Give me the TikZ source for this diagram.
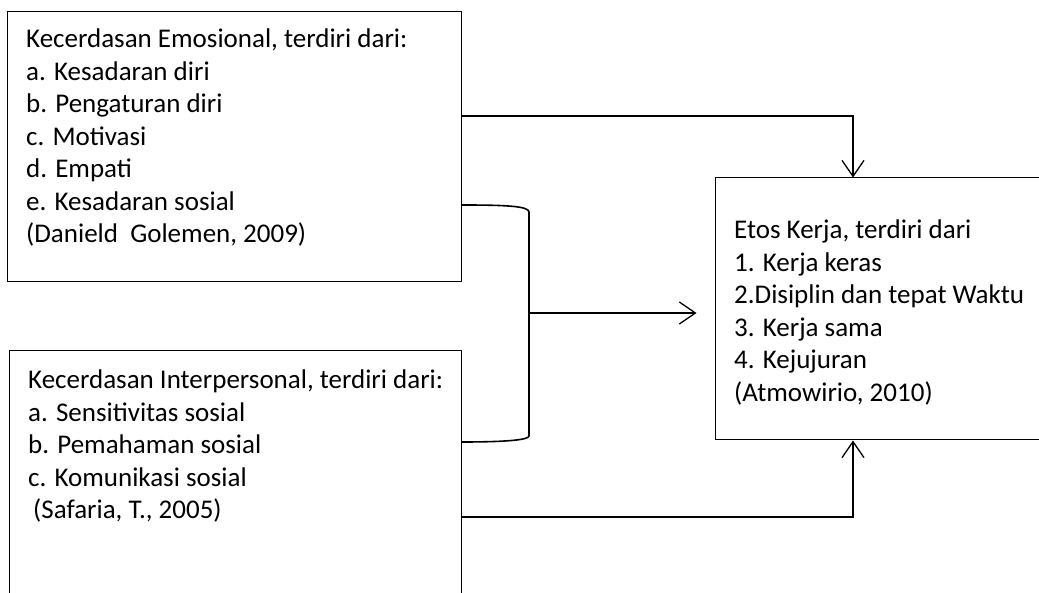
\documentclass[tikz,border=0pt]{standalone}
\usepackage{fontspec}
\setmainfont{Carlito}
\usetikzlibrary{arrows.meta,calc}
\tikzset{
  box/.style={draw=black, line width=1pt, rectangle, inner sep=0pt},
  txt/.style={anchor=base west, inner sep=0pt, font=\fontsize{27}{32.5}\selectfont},
  conn/.style={draw=black, line width=1.6pt},
  arr/.style={conn, -{Straight Barb[length=16pt,width=22pt,line width=1.3pt]}},
}
\begin{document}
\begin{tikzpicture}[x=1pt,y=-1pt]
\useasboundingbox[fill=white] (0,0) rectangle (1039,593);
\clip (0,0) rectangle (1039,593);
% boxes
\node[box, minimum width=454pt, minimum height=270pt] (e1) at (234,147) {};
\node[box, minimum width=452pt, minimum height=280pt] (e2) at (235,491) {};
\node[box, minimum width=340pt, minimum height=262pt] (e3) at (885,309) {};
% texts
\node[txt] (t1) at (26,48) {\begin{tabular}[t]{@{}l@{}}
Kecerdasan Emosional, terdiri dari:\\
a. Kesadaran diri\\
b. Pengaturan diri\\
c. Motivasi\\
d. Empati\\
e. Kesadaran sosial\\
(Danield\ \ Golemen, 2009)
\end{tabular}};
\node[txt] (t2) at (28,389) {\begin{tabular}[t]{@{}l@{}}
Kecerdasan Interpersonal, terdiri dari:\\
a. Sensitivitas sosial\\
b. Pemahaman sosial\\
c. Komunikasi sosial\\
\hspace{5pt}(Safaria, T., 2005)
\end{tabular}};
\node[txt] (t3) at (734,239) {\begin{tabular}[t]{@{}l@{}}
Etos Kerja, terdiri dari\\
1. Kerja keras\\
2.Disiplin dan tepat Waktu\\
3. Kerja sama\\
4. Kejujuran\\
(Atmowirio, 2010)
\end{tabular}};
% connectors
\coordinate (b1) at (e1.east |- 0,205);
\coordinate (b2) at (e2.east |- 0,442);
\coordinate (bm) at (529,313);
\coordinate (am) at ($(e3.west |- bm)+(-18,0)$);
\draw[conn] (b1) .. controls (505,205) and (529,206) .. (529,212) -- (529,436) .. controls (529,440) and (505,442) .. (b2);
\draw[arr] (bm) -- (am);
\draw[arr] (e1.east |- 0,116) -| (e3.north -| 853,0);
\draw[arr] (e2.east |- 0,517) -| (e3.south -| 853,0);
\end{tikzpicture}
\end{document}
